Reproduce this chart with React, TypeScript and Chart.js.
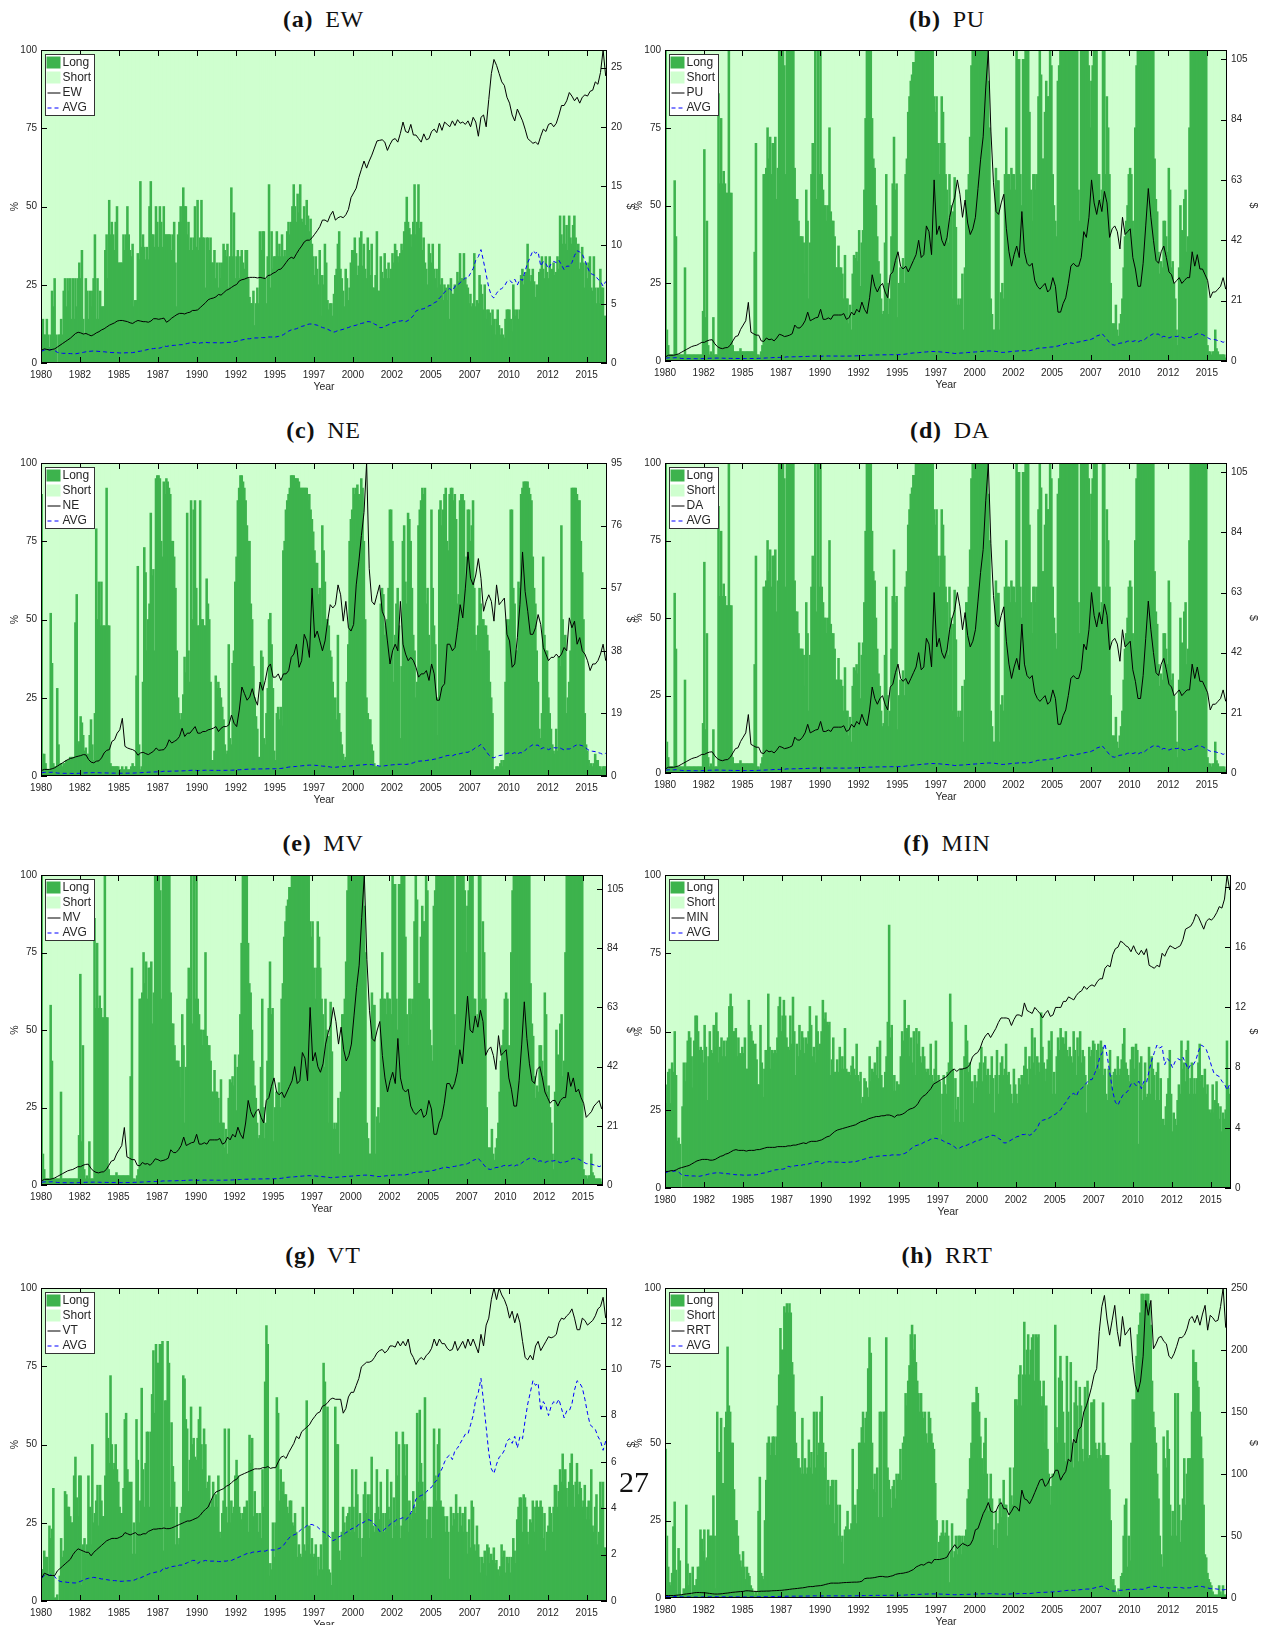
import React, { useEffect, useRef } from "react";
import { Chart, registerables } from "chart.js";

Chart.register(...registerables);

const LONG_COLOR = "#3DB34D";
const SHORT_COLOR = "#CFFFCF";
const INK = "#262626";
const SANS = '"Liberation Sans", Arial, sans-serif';

const longEW = [
9,14,9,9,14,9,5,9,23,18,27,9, 0,9,9,14,9,23,27,18,27,23,27,14, 27,14,27,18,27,32,27,36,14,9,27,23, 14,23,18,23,27,41,14,27,14,23,18,18,
18,36,41,27,52,41,45,41,36,45,50,32, 32,32,32,41,36,41,50,41,36,34,38,18, 20,20,35,33,58,37,41,37,33,37,33,50, 58,41,41,37,50,45,37,50,45,37,50,41,
41,41,41,41,36,41,45,32,18,41,45,50, 45,56,50,50,41,45,36,40,36,40,50,37, 52,36,40,52,40,40,24,40,40,36,40,32, 32,36,27,32,24,32,27,32,38,36,34,38,
24,34,56,34,48,27,34,36,27,34,36,32, 30,36,36,27,21,19,19,23,12,19,24,19, 42,36,42,42,27,19,34,57,24,42,30,34, 34,42,34,38,34,41,34,36,34,42,45,41,
45,50,57,50,45,54,48,57,46,45,50,44, 52,47,42,46,38,34,28,34,30,25,36,15, 28,25,38,32,20,17,19,19,15,22,28,30, 38,42,30,27,23,18,30,27,20,24,32,36,
36,40,35,28,31,40,42,31,38,30,27,40, 36,28,38,24,24,28,42,23,23,34,29,27, 35,30,27,32,27,30,35,32,38,36,34,32, 35,38,36,42,45,53,45,43,41,37,45,57,
41,45,57,43,45,36,40,32,30,25,38,35, 32,38,30,27,30,24,38,25,27,20,25,24, 20,25,14,27,22,22,25,24,29,26,35,27, 27,35,27,25,24,19,22,18,19,35,18,20,
19,28,25,22,17,25,14,17,17,16,12,17, 14,9,14,17,12,9,11,9,8,14,17,17, 17,14,10,25,17,15,17,14,17,28,30,25, 28,29,38,30,26,28,30,26,21,25,21,29,
30,34,30,27,34,29,27,34,18,30,32,28, 29,34,30,47,41,38,47,38,44,36,47,40, 38,44,47,40,35,38,30,32,37,32,24,32, 27,32,34,24,23,34,24,19,24,19,30,24, 24,15,15];
const longPU = [
100,10,5,2,2,2,2,58,40,2,2,2, 2,2,2,30,2,2,2,2,2,2,2,2, 2,2,2,2,2,16,68,14,45,5,2,3, 2,14,2,2,2,86,57,78,57,61,57,54,
54,100,54,54,5,3,3,3,3,3,4,3, 3,3,3,3,3,3,3,3,3,35,70,2, 2,1,3,5,60,60,62,75,65,72,60,70, 70,72,52,62,100,100,100,100,95,60,100,100,
100,100,100,100,62,52,52,45,40,40,40,38, 28,55,45,20,38,60,70,60,100,52,100,60, 100,60,55,50,50,45,50,75,48,45,45,40, 30,30,37,30,30,28,20,34,20,20,12,18,
10,28,34,33,35,32,42,24,38,42,55,78, 100,100,100,100,78,65,62,50,40,32,28,20, 15,16,38,60,25,15,20,40,57,72,55,57, 14,25,30,30,33,25,60,65,80,85,90,92,
96,96,100,100,100,100,100,100,100,100,100,100, 100,100,100,100,85,80,85,70,60,70,85,80, 70,60,55,38,60,50,20,48,59,43,18,20, 18,20,28,10,30,55,55,60,72,95,100,100,
100,100,100,100,100,100,100,100,100,100,90,75, 20,15,10,10,62,58,58,10,22,25,20,60, 75,60,60,55,62,60,60,55,100,97,97,60, 50,97,97,100,100,100,80,55,45,60,60,55,
60,85,100,92,65,65,80,90,85,85,100,95, 60,50,45,40,90,95,100,100,100,100,100,100, 100,100,100,100,100,100,100,100,55,45,100,100, 100,100,100,100,95,75,90,95,100,100,100,60,
60,52,55,100,100,60,85,75,60,25,12,12, 12,18,10,8,12,15,20,30,40,45,50,60, 62,60,45,40,75,95,100,100,100,100,100,100, 100,100,100,100,100,100,100,65,52,48,35,28,
32,30,45,45,40,35,62,55,30,32,25,20, 10,5,30,50,42,30,52,55,35,40,75,100, 100,100,100,100,100,100,100,100,100,100,100,100, 5,3,3,2,3,3,10,4,3,2,2,2, 2,2,1];
const longNE = [
90,7,7,4,2,2,2,52,36,4,3,3, 28,10,3,4,3,4,4,5,5,5,6,6, 6,6,49,58,10,11,19,17,13,8,9,7, 7,13,18,10,5,20,79,50,62,48,62,48,
48,48,92,48,48,4,3,3,3,3,3,3, 2,2,3,2,2,3,2,2,2,3,4,3, 3,32,67,10,2,3,30,73,65,40,50,55, 84,64,66,40,95,96,96,95,75,70,94,90,
95,94,92,90,75,75,70,60,40,25,20,18, 20,26,38,33,84,40,30,88,50,85,88,60, 48,48,88,50,50,48,48,63,55,50,30,5, 5,8,32,28,30,28,25,22,18,10,7,8,
42,12,10,36,40,62,70,88,92,96,96,94, 92,88,80,75,75,55,50,35,25,19,15,6, 6,40,38,12,10,20,28,50,52,42,28,8, 5,20,22,18,22,16,72,75,85,88,90,92,
96,96,96,95,95,95,94,92,92,92,92,92, 92,88,90,85,82,78,72,68,68,58,60,48, 80,72,62,50,50,48,40,38,30,20,25,18, 45,20,14,10,7,5,6,30,42,75,82,85,
92,90,92,93,90,88,95,92,75,50,25,20, 18,18,10,8,4,3,3,3,3,55,60,58, 45,48,50,60,85,85,75,30,45,55,60,48, 12,35,75,80,62,55,84,82,75,60,45,40,
25,30,80,85,88,92,90,92,55,60,45,35, 85,60,48,42,25,13,85,88,80,85,90,92, 75,72,90,92,92,88,90,82,55,58,88,90, 90,88,60,70,85,85,75,80,88,60,45,40,
48,60,55,50,50,48,48,45,40,30,25,20, 2,2,3,3,2,4,5,3,5,30,50,48, 50,85,85,60,55,40,40,62,60,90,92,94, 94,94,94,92,90,88,70,60,55,40,30,15,
12,20,70,45,40,40,25,20,15,10,8,7, 15,8,38,35,80,50,40,45,20,25,30,40, 92,92,92,92,90,88,88,75,65,50,20,10, 8,5,3,4,3,4,7,5,5,3,3,2, 3,3,3];
const longDA = longPU;
const longMV = longPU;
const longMIN = [
33,27,37,38,27,40,37,50,36,15,16,14, 0,26,40,34,40,47,50,48,42,32,47,55, 55,50,44,45,44,40,52,45,28,42,50,44, 43,52,45,56,50,40,45,48,42,47,42,47,
48,58,62,58,50,50,51,42,48,43,42,45, 43,48,38,38,60,52,50,47,38,46,41,33, 33,52,40,29,38,44,38,62,45,38,44,43, 44,43,48,58,61,50,55,60,55,48,45,44,
55,46,61,50,36,46,42,52,44,50,48,43, 48,46,50,58,52,42,45,40,55,50,44,46, 50,60,54,56,53,52,53,36,41,48,37,37, 41,37,45,38,42,38,51,38,37,37,36,39,
42,38,36,46,36,34,37,27,29,35,34,32, 29,42,34,38,37,40,36,45,35,47,36,32, 32,37,42,53,84,48,52,31,36,31,34,33, 33,42,50,47,60,50,51,52,42,48,40,50,
36,51,46,50,42,40,45,42,38,37,38,36, 46,36,34,38,47,34,36,34,17,30,36,33, 30,37,40,62,53,38,21,35,25,29,21,38, 38,21,42,52,47,37,40,26,34,27,36,32,
34,38,40,45,34,40,42,36,38,30,36,42, 35,24,36,44,30,36,40,42,36,38,46,36, 37,33,30,27,38,33,30,27,35,33,36,35, 39,45,38,33,42,38,51,40,48,36,42,40,
37,56,45,40,34,38,41,47,44,50,30,37, 30,42,48,44,51,48,48,46,50,44,42,45, 42,40,50,44,36,48,42,50,40,44,42,36, 24,33,45,42,44,47,46,38,44,46,38,47,
45,36,38,30,28,38,44,36,32,37,38,36, 42,36,38,41,46,51,40,38,36,34,41,45, 45,38,46,44,14,40,42,28,33,40,29,30, 45,30,42,38,36,28,37,40,28,35,20,22,
20,26,30,35,44,30,18,24,22,20,28,33, 30,47,38,40,34,44,47,30,35,40,30,35, 30,35,40,46,34,36,32,38,30,33,25,24, 25,33,24,28,34,27,22,26,18,24,22,25, 47,32,30];
const longVT = [
10,10,16,14,14,8,24,20,23,36,1,1, 2,0,8,20,14,16,35,34,30,30,27,25, 25,40,46,33,27,40,40,5,18,20,15,18, 40,30,18,50,25,28,32,37,24,37,32,27,
27,40,60,52,44,72,50,42,44,50,42,38, 30,28,28,36,58,60,42,38,25,38,15,25, 15,58,45,25,32,68,42,30,44,54,54,30, 54,66,80,60,82,76,76,82,82,83,16,64,
64,83,76,30,57,43,38,18,30,18,20,28, 30,72,71,58,55,35,45,62,50,52,46,45, 52,58,62,50,42,55,50,36,38,40,30,32, 38,30,34,30,40,22,20,28,32,55,30,25,
55,25,32,28,30,40,45,40,30,28,26,28, 30,30,32,22,53,44,52,27,35,28,28,22, 28,20,42,30,70,88,82,8,12,10,25,14, 25,65,60,32,42,35,38,34,34,30,28,32,
32,25,24,28,22,14,18,15,14,30,18,16, 64,18,24,15,20,14,15,18,8,14,10,18, 10,76,70,20,62,10,9,5,22,14,62,50, 50,16,13,22,30,25,22,27,28,30,22,42,
30,22,42,34,20,28,14,20,34,38,28,34, 20,34,46,24,22,28,42,30,26,38,22,28, 22,28,42,30,26,38,20,33,24,54,40,50, 20,24,54,50,40,50,22,32,28,26,35,30,
28,60,38,61,44,38,32,65,20,26,30,30, 20,30,55,40,32,50,55,32,30,30,27,22, 27,22,7,30,24,28,26,34,28,22,30,24, 28,22,30,22,15,26,17,32,30,18,16,24,
18,14,9,14,12,16,8,18,17,12,15,13, 17,12,13,10,8,11,18,14,16,9,14,12, 14,9,14,20,16,12,26,30,33,33,22,34, 33,30,22,18,26,25,32,22,30,32,28,30,
32,30,20,28,16,22,24,30,28,22,30,37, 37,30,35,42,38,47,37,42,36,30,38,44, 47,37,30,38,44,34,38,36,30,32,37,26, 30,32,26,42,24,22,30,34,18,22,38,30, 38,17,17];
const longRRT = [
48,20,10,5,4,8,23,31,9,1,16,12, 1,1,3,1,30,11,4,8,1,10,4,4, 6,10,10,22,19,15,22,12,13,22,20,20, 20,33,20,3,60,47,47,58,37,37,55,60,
81,62,60,50,50,35,25,25,20,14,12,10, 15,10,6,10,8,7,4,3,2,1,2,1, 28,39,8,7,6,25,38,50,52,46,50,52, 52,46,52,62,72,87,80,80,94,92,95,92,
95,92,76,72,60,50,45,45,42,40,58,40, 45,40,42,51,42,47,40,60,42,60,46,50, 60,65,50,42,47,30,38,30,36,38,38,24, 38,30,20,30,18,20,11,22,23,28,22,22,
24,48,21,30,24,35,50,50,55,60,50,58, 60,74,84,79,50,35,40,34,42,26,60,60, 26,60,60,84,42,38,35,29,36,38,32,40, 38,40,48,38,50,52,66,62,70,75,85,88,
80,85,76,70,66,60,66,60,58,60,53,50, 60,58,53,50,48,37,25,12,18,20,21,25, 20,21,25,20,5,15,24,13,15,20,14,20, 20,14,20,18,20,22,32,35,45,50,63,63,
63,68,66,60,52,45,40,50,58,40,28,32, 40,32,17,22,28,16,24,32,26,30,38,30, 30,20,26,42,33,30,42,64,64,62,72,75, 62,72,89,72,80,85,72,80,84,85,70,85,
84,85,70,62,65,70,50,62,48,40,30,36, 40,30,88,55,50,71,78,70,60,50,44,78, 60,44,76,50,42,63,70,62,44,68,62,48, 44,68,62,70,45,46,63,63,64,50,48,45,
50,46,45,63,50,46,46,46,35,25,5,6, 4,2,1,3,1,7,8,20,30,32,10,20, 12,50,64,54,64,78,85,88,92,98,98,96, 98,98,98,95,88,70,60,55,50,40,32,20,
14,10,52,45,42,54,48,30,20,28,20,66, 20,66,30,18,25,32,45,30,40,45,45,45, 60,80,76,76,70,68,60,52,45,30,14,13, 8,6,5,4,2,1,1,1,1,4,2,1, 4,1,1];

const avgSeries = [1.0,1.1,1.15,1.1,1.15,1.05, .9,.85,.82,.82,.8,.8, .78,.78,.82,.85,.9,.95, .98,1.0,1.02,1.0,.98,.95, .95,.92,.9,.88,.88,.87, .85,.85,.86,.87,.87,.88, .92,.98,1.0,1.05,1.1,1.15, 1.2,1.22,1.25,1.25,1.3,1.45, 1.4,1.45,1.48,1.5,1.5,1.55, 1.55,1.6,1.65,1.7,1.75,1.75, 1.62,1.7,1.72,1.75,1.72,1.72, 1.72,1.72,1.7,1.7,1.72,1.72, 1.75,1.75,1.8,1.85,1.9,1.95, 2.0,2.05,2.05,2.1,2.12,2.12, 2.15,2.15,2.15,2.2,2.2,2.2, 2.2,2.25,2.3,2.4,2.55,2.7, 2.8,2.85,2.9,3.0,3.1,3.15, 3.25,3.3,3.3,3.25,3.2,3.1, 3.0,2.95,2.85,2.75,2.6,2.65, 2.75,2.8,2.85,2.95,3.0,3.1, 3.15,3.2,3.3,3.35,3.4,3.5, 3.5,3.45,3.3,3.2,3.0,3.0, 3.1,3.2,3.3,3.4,3.45,3.55, 3.55,3.6,3.5,3.6,3.8,4.0, 4.4,4.5,4.55,4.6,4.7,4.85, 4.9,5.1,5.2,5.5,5.7,6.0, 6.2,6.3,6.1,6.5,6.6,6.8, 7.0,7.2,7.2,7.6,8.0,8.7, 9.0,9.6,8.6,7.5,6.4,5.7, 5.5,5.9,6.2,6.3,6.5,6.9, 7.0,6.8,7.1,6.6,7.1,7.0, 7.8,8.5,9.0,9.5,9.3,9.4, 8.2,8.6,8.4,8.0,8.4,8.6, 8.5,8.7,8.3,7.9,8.2,8.2, 8.5,9.1,9.5,9.4,9.2,8.7, 8.1,7.6,7.5,7.4,7.1,6.9, 6.5,6.9];

const lineEW = [1.1,1.2,1.15,1.1,1.15,1.2, 1.35,1.5,1.65,1.8,1.95,2.1, 2.3,2.5,2.6,2.55,2.45,2.5, 2.4,2.3,2.4,2.55,2.65,2.8, 2.9,3.05,3.2,3.3,3.4,3.55, 3.6,3.6,3.55,3.5,3.4,3.35, 3.5,3.6,3.55,3.5,3.5,3.45, 3.55,3.75,3.75,3.7,3.75,3.8, 3.45,3.6,3.8,3.95,4.1,4.2, 4.2,4.15,4.25,4.3,4.45,4.45, 4.5,4.7,4.9,5.1,5.35,5.45, 5.5,5.6,5.8,5.75,5.95,6.15, 6.25,6.4,6.55,6.65,6.95,7.05, 7.1,7.2,7.25,7.25,7.25,7.2, 7.25,7.2,7.15,7.4,7.45,7.6, 7.7,7.9,7.95,8.2,8.5,8.8, 8.95,8.85,9.25,9.6,9.9,10.25, 10.4,10.4,10.6,10.9,11.2,11.55, 12.1,12.1,11.95,12.5,12.85,12.1, 12.3,12.4,12.3,12.55,13.0,14.0, 14.4,14.8,15.7,16.4,17.1,16.5, 17.1,17.6,18.2,18.8,18.85,18.9, 18.7,18.0,18.5,18.9,19.0,18.7, 19.45,20.4,19.6,19.5,20.2,19.3, 19.3,19.0,18.7,19.4,18.9,19.0, 19.6,19.8,19.5,20.3,19.7,20.4, 20.2,20.0,20.5,20.1,20.6,20.3, 20.4,20.2,20.5,20.0,20.8,20.4, 19.2,20.8,21.0,20.0,22.3,24.5, 25.7,25.2,24.5,23.8,23.5,22.5, 22.0,21.0,20.5,21.5,21.0,20.5, 19.8,19.0,18.8,18.6,18.7,18.5, 19.2,19.8,19.6,20.2,20.3,20.0, 20.3,21.0,21.8,21.8,22.2,22.9, 22.6,22.2,22.5,22.0,22.5,22.7, 22.6,23.0,23.1,23.8,23.6,24.6, 26.5,24.3];
const linePU = [1.5,2,2,2,2.2,2.5, 3,3.5,4,4.5,5,5.3, 5.5,6,6.5,6.5,7,7.3, 7.4,6,5,4.5,4.3,4.6, 4.7,5.5,7,8.5,8.8,11, 12.5,14,20.4,10,9.5,9, 9,7,6.8,8,7.4,7.6, 7,8,9.3,9,8.5,8.7, 9,9.5,12.5,11.5,11.5,12.5, 14,17,14,14.5,15,15.2, 18,14.5,14.5,15,14.5,16, 16,16,16,16.5,14.5,15, 17,16,18,17,20.5,18, 16.5,22,30,26,24,26, 27,24,22,30,31,35, 38,33,32,33,31,33, 35,37,42,36,37,47, 45,37,63,44,47,42, 40,43,50,54,57,63, 58,50,56,48,44,46, 50,60,70,78,95,108, 80,62,52,51,55,58, 46,38,33,37,40,36, 52,38,34,33,34,28, 26,25,26,27,24,25, 29,26,17,17,20,22, 27,33,34,33,33,36, 45,43,50,63,55,51, 56,52,59,55,43,46, 47,45,39,50,44,45, 46,36,32,26,26,34, 47,60,50,42,35,34, 38,40,36,31,30,27, 28,29,27,28,29,29, 38,33,37,32,32,30, 28,22,24,24,25,26, 29,25];
const lineDA = linePU;
const lineMV = [1.5,2,2,2,2.2,2.5, 3,3.5,4,4.5,5,5.3, 5.5,6,6.5,6.5,7,7.3, 7.4,6,5,4.5,4.3,4.6, 4.7,5.5,7,8.5,8.8,11, 12.5,14,20.4,10,9.5,9, 9,7,6.8,8,7.4,7.6, 7,8,9.3,9,8.5,8.7, 9,9.5,12.5,11.5,11.5,12.5, 14,17,14,14.5,15,15.2, 18,14.5,14.5,15,14.5,16, 16,16,16,16.5,14.5,15, 17,16,18,17,20.5,18, 16.5,22,30,26,24,26, 27,24,22,30,31,35, 38,33,32,33,31,33, 35,37,42,36,37,47, 45,37,63,44,47,42, 40,43,50,54,57,63, 58,50,56,48,44,46, 50,60,70,78,95,110, 80,62,52,51,55,58, 46,38,33,37,40,36, 52,38,34,33,34,28, 26,25,26,27,24,25, 30,27,18,18,22,24, 29,36,36,34,36,40, 48,43,55,67,55,54, 60,56,62,58,46,48, 49,46,41,53,46,47, 48,38,34,28,28,37, 50,65,52,43,37,36, 41,42,38,33,31,29, 30,30,28,30,31,31, 40,35,38,33,34,31, 29,24,25,26,28,29, 30,27];
const lineNE = [1.7,2,2,2,2.2,2.5, 3,3.5,4,4.5,5,5.3, 5.5,5.8,6,6.2,6.5,6.4, 5,4.2,4,4.5,4.6,5.5, 7,7.8,8,10.5,11,13, 14,17.5,9,8.5,8.2,8, 7.5,6.3,7,7.2,6.8,6.5, 7,7.5,8.5,7.8,7.9,8, 9,11,10,10.5,11,12, 14.5,12,13,13,14,15, 13,13,13.5,13.5,14,14.2, 14.5,15,13.5,14.5,15,15, 15.5,18.5,16,15,20,27, 25,23,24,26.5,23.5,21.5, 28.5,26,29,33,34,30, 30,31,29,31,31,32, 36,37,40,33,35,43, 41,36,57,42,44,41, 38,41,47,52,51,52, 58,55,47,53,45,44, 46,58,65,73,80,95, 63,53,52,55,58,50, 48,41,34,38,40,38, 53,40,37,35,36,35, 33,30,31,31,32,29, 34,31,23,23,27,28, 40,40,38,39,45,52, 48,57,68,60,58,61, 66,60,50,53,55,53, 47,58,52,53,54,43, 41,33,34,42,52,68, 56,50,43,43,45,49, 46,39,37,35,36,36, 37,36,37,39,38,48, 45,47,40,42,38,37, 35,32,34,34,35,37, 40,35];
const lineMIN = [1.1,1.1,1.15,1.15,1.2,1.3, 1.35,1.4,1.45,1.5,1.6,1.7, 1.8,1.85,1.9,1.9,1.9,1.85, 1.85,1.9,2.0,2.1,2.15,2.25, 2.3,2.4,2.5,2.55,2.5,2.5, 2.5,2.45,2.5,2.5,2.5,2.55, 2.55,2.6,2.65,2.7,2.7,2.7, 2.7,2.75,2.75,2.75,2.75,2.8, 2.8,2.85,2.85,2.9,2.95,3.0, 2.95,3.05,3.1,3.1,3.1,3.15, 3.2,3.3,3.4,3.45,3.6,3.75, 3.85,3.9,3.95,4.0,4.05,4.1, 4.15,4.2,4.3,4.4,4.45,4.5, 4.6,4.65,4.7,4.75,4.75,4.8, 4.8,4.85,4.85,4.8,4.7,4.85, 4.85,4.9,5.0,5.15,5.25,5.3, 5.4,5.6,5.9,6.1,6.2,6.4, 6.6,6.9,7.0,7.1,7.2,7.3, 7.4,7.6,7.8,7.9,7.75,7.9, 7.9,7.95,8.0,8.2,8.7,8.9, 9.0,9.3,9.8,10.1,10.3,10.0, 10.3,10.6,11.0,11.3,11.3,11.3, 11.25,10.8,11.2,11.5,11.5,11.4, 12.3,11.8,11.7,11.6,12.0,11.8, 11.6,11.3,11.6,11.8,11.4,11.5, 12.0,12.0,12.0,12.4,12.4,12.7, 12.6,12.5,12.8,13.0,13.1,13.4, 13.2,13.4,13.5,13.4,13.7,13.9, 13.9,14.6,14.8,14.7,15.5,15.9, 16.0,16.4,16.3,16.1,16.0,15.7, 16.1,15.7,15.5,15.8,15.5,15.9, 14.8,14.7,14.6,14.8,14.7,15.6, 15.4,15.8,16.1,16.0,15.9,16.0, 16.1,16.5,17.2,17.3,17.4,17.7, 18.2,18.0,17.6,17.2,17.7,17.9, 17.8,18.0,18.3,18.7,18.6,19.2, 20.8,19.8];
const lineVT = [1.0,1.2,1.15,1.1,1.1,1.1, 1.3,1.4,1.5,1.6,1.7,1.8, 2.0,2.15,2.25,2.2,2.15,2.1, 2.1,1.95,2.1,2.2,2.3,2.4, 2.5,2.6,2.65,2.7,2.7,2.7, 2.75,2.8,2.95,2.9,2.85,2.9, 2.95,2.85,2.85,2.9,2.9,3.0, 3.05,3.1,3.1,3.12,3.12,3.15, 3.12,3.12,3.15,3.2,3.25,3.3, 3.35,3.4,3.45,3.45,3.5,3.55, 3.6,3.7,3.85,3.95,4.05,4.3, 4.55,4.7,4.75,4.8,4.85,4.95, 5.0,5.1,5.2,5.25,5.4,5.45, 5.5,5.55,5.6,5.65,5.7,5.7, 5.7,5.75,5.75,5.8,5.72,5.75, 5.75,6.0,6.2,6.25,6.15,6.4, 6.6,6.8,7.1,7.0,7.3,7.4, 7.5,7.6,7.8,7.95,8.1,8.15, 8.4,8.45,8.55,8.7,8.75,8.7, 8.7,8.7,8.1,8.3,8.8,9.0, 9.0,9.3,9.6,10.1,10.2,10.3, 10.3,10.35,10.5,10.7,10.8,10.85, 10.7,10.8,11.0,11.0,10.95,11.2, 11.0,11.2,11.0,11.3,10.7,10.5, 10.2,10.4,10.5,10.4,10.6,10.7, 10.9,11.3,11.0,11.3,11.1,11.1, 10.9,10.8,10.85,11.2,10.8,11.0, 11.2,10.9,11.3,11.0,11.3,11.0, 10.7,11.5,11.0,11.9,12.2,13.0, 13.5,13.0,13.5,13.2,13.0,12.7, 12.2,12.5,12.0,12.4,12.0,11.2, 10.5,10.4,10.6,10.4,11.0,11.2, 10.8,11.0,11.2,11.4,11.35,11.4, 11.5,12.0,12.2,12.15,12.3,12.4, 12.6,12.2,11.7,11.7,12.2,12.1, 11.9,12.0,12.1,12.3,12.6,12.7, 13.1,12.2];
const lineRRT = [2,2,2,2,2.2,2.4, 2.6,3,3.3,3.5,3.8,4.2, 4.4,4.4,4.3,4.2,4,3.7, 3.4,3.2,3.2,3.3,3.5,3.8, 4,4.3,4.6,4.8,5,5.2, 5.3,5.8,5.8,5.6,5.4,5.3, 5.3,5.5,5.5,5.6,5.6,5.8, 5.9,6,6.1,6.2,6.5,6.7, 7,7.3,7.5,7.7,8,8.2, 8.5,9,9.2,9.2,9.6,9.8, 10,10.4,11,11.5,12,12, 12,12,12.2,12.4,12.5,12.6, 12.7,12.8,12.8,13,13.5,15.5, 16,16,16.2,16.5,17,17.4, 17.4,17,17,17.5,18,19, 19.5,19.8,20,20.5,21,22, 23,25,26,27,26.5,28, 29,28,31,31,31,31.5, 32,33,37,40,43,40, 42,44,43,42,43,47, 55,56,62,68,72,77, 70,69,70,75,77,72, 72,67,70,74,73,70, 87,80,79,76,80,85, 90,95,96,90,92,97, 98,103,103,95,99,102, 112,110,128,125,136,138, 150,155,162,170,180,185, 215,235,244,225,212,224, 236,215,203,227,212,215, 218,190,172,166,175,195, 240,228,240,201,205,210, 211,207,205,195,193,197, 203,210,210,212,217,225, 227,222,228,220,229,236, 216,228,226,223,224,235, 250,218];

const yearBounds = [1980, 2016.3];
const BARS_PER_YEAR = 12;
const LINE_POINTS_PER_YEAR = 6;

type Panel = {
  letter: string; name: string; long: number[]; line: number[];
  rightMax: number; rightStep: number;
  l: number; r: number; t: number; b: number;
  wl: number; wr: number; cx: number; cy: number;
};

const panels: Panel[] = [
  { letter: "(a)", name: "EW", long: longEW, line: lineEW, rightMax: 26.5, rightStep: 5, l: 41, r: 607, t: 48, b: 363, wl: 32, wr: 29, cx: 323.5, cy: 18.5 },
  { letter: "(b)", name: "PU", long: longPU, line: linePU, rightMax: 108.2, rightStep: 21, l: 665, r: 1227, t: 48, b: 361, wl: 32, wr: 32, cx: 947, cy: 18.5 },
  { letter: "(c)", name: "NE", long: longNE, line: lineNE, rightMax: 95, rightStep: 19, l: 41, r: 607, t: 461, b: 776, wl: 32, wr: 29, cx: 323.5, cy: 430 },
  { letter: "(d)", name: "DA", long: longDA, line: lineDA, rightMax: 108.2, rightStep: 21, l: 665, r: 1227, t: 461, b: 773, wl: 32, wr: 32, cx: 950, cy: 430 },
  { letter: "(e)", name: "MV", long: longMV, line: lineMV, rightMax: 110, rightStep: 21, l: 41, r: 603, t: 873, b: 1185, wl: 32, wr: 33, cx: 323, cy: 843 },
  { letter: "(f)", name: "MIN", long: longMIN, line: lineMIN, rightMax: 20.8, rightStep: 4, l: 665, r: 1231, t: 873, b: 1188, wl: 32, wr: 28, cx: 947, cy: 843 },
  { letter: "(g)", name: "VT", long: longVT, line: lineVT, rightMax: 13.5, rightStep: 2, l: 41, r: 607, t: 1286, b: 1601, wl: 32, wr: 29, cx: 323, cy: 1255 },
  { letter: "(h)", name: "RRT", long: longRRT, line: lineRRT, rightMax: 250, rightStep: 50, l: 665, r: 1227, t: 1286, b: 1598, wl: 32, wr: 32, cx: 947, cy: 1255 },
];

const PAD_TOP = 8;
const PAD_BOTTOM = 30;

const frame = {
  id: "frame",
  afterDatasetsDraw(chart: any) {
    const { ctx, chartArea: a, scales } = chart;
    ctx.save();
    ctx.strokeStyle = "#000";
    ctx.lineWidth = 1;
    const tick = 6;
    ctx.beginPath();
    scales.x.ticks.forEach((t: any) => {
      const px = Math.round(scales.x.getPixelForValue(t.value)) + 0.5;
      ctx.moveTo(px, a.top); ctx.lineTo(px, a.top + tick);
      ctx.moveTo(px, a.bottom); ctx.lineTo(px, a.bottom - tick);
    });
    scales.y.ticks.forEach((t: any) => {
      const py = Math.round(scales.y.getPixelForValue(t.value)) + 0.5;
      ctx.moveTo(a.left, py); ctx.lineTo(a.left + tick, py);
    });
    scales.y1.ticks.forEach((t: any) => {
      const py = Math.round(scales.y1.getPixelForValue(t.value)) + 0.5;
      ctx.moveTo(a.right, py); ctx.lineTo(a.right - tick, py);
    });
    ctx.stroke();
    ctx.strokeRect(a.left + 0.5, a.top + 0.5, a.right - a.left - 1, a.bottom - a.top - 1);

    const bx = a.left + 4.5, by = a.top + 4.5, bw = 49, bh = 61;
    ctx.fillStyle = "#fff";
    ctx.fillRect(bx, by, bw, bh);
    ctx.strokeStyle = "#333";
    ctx.strokeRect(bx, by, bw, bh);
    ctx.font = `12px ${SANS}`;
    ctx.textBaseline = "middle";
    const rows = [8, 23, 38, 53];
    chart.data.datasets.slice(0, 4).forEach((d: any, i: number) => {
      const y = by + rows[i];
      if (i < 2) {
        ctx.fillStyle = d.backgroundColor;
        ctx.fillRect(bx + 1, y - 6, 14, 12);
      } else {
        ctx.strokeStyle = d.borderColor;
        ctx.lineWidth = 1;
        ctx.setLineDash(d.borderDash || []);
        ctx.beginPath();
        ctx.moveTo(bx + 2, y + 0.5); ctx.lineTo(bx + 15, y + 0.5);
        ctx.stroke();
        ctx.setLineDash([]);
      }
      ctx.fillStyle = INK;
      ctx.fillText(d.label, bx + 17, y);
    });
    ctx.restore();
  },
};

function PanelChart({ p }: { p: Panel }) {
  const ref = useRef<HTMLCanvasElement>(null);
  useEffect(() => {
    const pw = p.r - p.l;
    const barPts = (v: number[]) => v.map((y, i) => ({ x: yearBounds[0] + (i + 0.5) / BARS_PER_YEAR, y }));
    const linePts = (v: number[]) => v.map((y, i) => ({ x: yearBounds[0] + i / LINE_POINTS_PER_YEAR + 0.05, y }));
    const thick = pw / p.long.length + 0.6;
    const tickFont = { family: SANS, size: 10 };
    const titleFont = { family: SANS, size: 10.5 };
    const chart = new Chart(ref.current!, {
      type: "bar",
      data: {
        datasets: [
          { type: "bar", label: "Long", data: barPts(p.long), backgroundColor: LONG_COLOR, borderWidth: 0, barThickness: thick, yAxisID: "y", stack: "s", order: 3 },
          { type: "bar", label: "Short", data: barPts(p.long.map((v) => 100 - v)), backgroundColor: SHORT_COLOR, borderWidth: 0, barThickness: thick, yAxisID: "y", stack: "s", order: 3 },
          { type: "line", label: p.name, data: linePts(p.line), borderColor: "#000", borderWidth: 1, pointRadius: 0, yAxisID: "y1", order: 1 },
          { type: "line", label: "AVG", data: linePts(avgSeries), borderColor: "#0000FF", borderWidth: 1, borderDash: [4, 3], pointRadius: 0, yAxisID: "y1", order: 2 },
        ],
      } as any,
      plugins: [frame],
      options: {
        responsive: false,
        animation: false,
        layout: { autoPadding: false, padding: { top: PAD_TOP, left: 0, right: 0, bottom: 0 } },
        plugins: { legend: { display: false }, tooltip: { enabled: false }, title: { display: false } },
        scales: {
          x: {
            type: "linear", stacked: true, offset: false, min: yearBounds[0], max: yearBounds[1],
            grid: { display: false, drawTicks: false, offset: false }, border: { display: false },
            title: { display: true, text: "Year", color: INK, font: titleFont, padding: 0 },
            ticks: {
              stepSize: 2.5, includeBounds: false, autoSkip: false, maxRotation: 0, color: INK, font: tickFont, padding: 6,
              callback: (v: any) => String(Math.floor(Number(v))),
            },
            afterFit: (s: any) => { s.height = PAD_BOTTOM; },
          },
          y: {
            stacked: true, min: 0, max: 100, position: "left",
            grid: { display: false, drawTicks: false }, border: { display: false },
            title: { display: true, text: "%", color: INK, font: titleFont, padding: 0 },
            ticks: { stepSize: 25, color: INK, font: tickFont, padding: 4 },
            afterFit: (s: any) => { s.width = p.wl; },
          },
          y1: {
            min: 0, max: p.rightMax, position: "right",
            grid: { display: false, drawTicks: false }, border: { display: false },
            title: { display: true, text: "$", color: INK, font: titleFont, padding: 0 },
            ticks: { stepSize: p.rightStep, includeBounds: false, color: INK, font: tickFont, padding: 4 },
            afterFit: (s: any) => { s.width = p.wr; },
          },
        },
      } as any,
    });
    return () => chart.destroy();
  }, [p]);
  const w = p.r - p.l + p.wl + p.wr;
  const h = p.b - p.t + PAD_TOP + PAD_BOTTOM;
  return (
    <canvas
      ref={ref}
      width={w}
      height={h}
      style={{ position: "absolute", left: p.l - p.wl, top: p.t - PAD_TOP, width: w, height: h, display: "block" }}
    />
  );
}

export default function App() {
  return (
    <div style={{ position: "absolute", left: 0, top: 0, width: 1270, height: 1625, background: "#fff", overflow: "hidden" }}>
      {panels.map((p) => (
        <React.Fragment key={p.name}>
          <div
            style={{
              position: "absolute", left: p.cx - 150, width: 300, top: p.cy - 15, height: 30, lineHeight: "30px",
              textAlign: "center", fontFamily: '"Liberation Serif", serif', fontSize: 24, color: "#111", wordSpacing: 5, letterSpacing: 0.8,
            }}
          >
            <b>{p.letter}</b> {p.name}
          </div>
          <PanelChart p={p} />
        </React.Fragment>
      ))}
      <div style={{ position: "absolute", left: 619, top: 1464, lineHeight: "36px", fontFamily: '"Liberation Serif", serif', fontSize: 30, color: "#111" }}>27</div>
    </div>
  );
}
